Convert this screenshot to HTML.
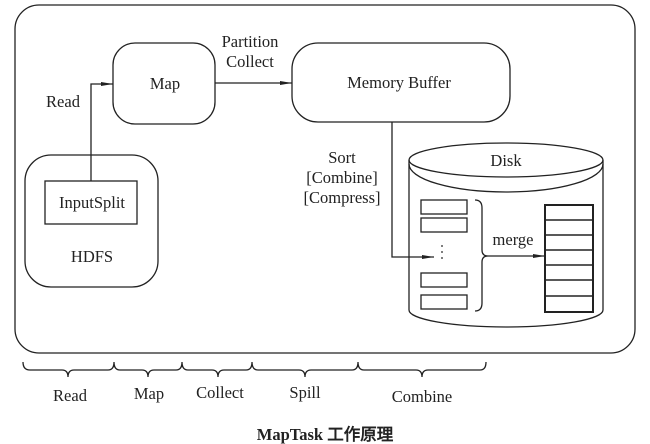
<!DOCTYPE html>
<html><head><meta charset="utf-8"><style>
html,body{margin:0;padding:0;background:#fff;}
svg{display:block;}
text{font-family:"Liberation Serif",serif;fill:#222;}
</style></head><body>
<svg width="650" height="444" viewBox="0 0 650 444" xmlns="http://www.w3.org/2000/svg">
<defs><marker id="a" markerWidth="12" markerHeight="6" refX="12" refY="3" orient="auto" markerUnits="userSpaceOnUse"><path d="M0,1 L12,3 L0,5 z" fill="#222"/></marker></defs>
<g fill="none" stroke="#222" stroke-width="1.3">
<rect x="15" y="5" width="620" height="348" rx="24"/>
<rect x="113" y="43" width="102" height="81" rx="22"/>
<rect x="292" y="43" width="218" height="79" rx="26"/>
<rect x="25" y="155" width="133" height="132" rx="26"/>
<rect x="45" y="181" width="92" height="43"/>
<path d="M91,181 V84 H113" marker-end="url(#a)"/>
<path d="M215,83 H292" marker-end="url(#a)"/>
<path d="M392,122 V257 H434" marker-end="url(#a)"/>
<path d="M409,160 V310 A97,17 0 0 0 603,310 V160"/>
<ellipse cx="506" cy="160" rx="97" ry="17"/>
<path d="M409,164 A97,28 0 0 0 603,164"/>
<rect x="421" y="200" width="46" height="14"/>
<rect x="421" y="218" width="46" height="14"/>
<rect x="421" y="273" width="46" height="14"/>
<rect x="421" y="295" width="46" height="14"/>
<path d="M475,200 Q482,200 482,208 V250 Q482,256 488,256 Q482,256 482,262 V303 Q482,311 475,311"/>
<path d="M488,256 H545" marker-end="url(#a)"/>
<rect x="545" y="205" width="48" height="107" stroke-width="2"/>
<path d="M545,220 H593 M545,235 H593 M545,250 H593 M545,265 H593 M545,280 H593 M545,296 H593" stroke-width="1.5"/>
<path d="M23,362 Q23,370 30,370 H62 Q68,370 68,377 Q68,370 74,370 H108 Q114,370 114,362 Q114,370 120,370 H142 Q148,370 148,377 Q148,370 154,370 H176 Q182,370 182,362 Q182,370 188,370 H212 Q218,370 218,377 Q218,370 224,370 H246 Q252,370 252,362 Q252,370 258,370 H299 Q305,370 305,377 Q305,370 311,370 H352 Q358,370 358,362 Q358,370 364,370 H416 Q422,370 422,377 Q422,370 428,370 H480 Q486,370 486,362"/>
</g>
<g fill="#222">
<circle cx="442" cy="246" r="0.9"/><circle cx="442" cy="252" r="0.9"/><circle cx="442" cy="258" r="0.9"/>
</g>
<g font-size="16.5" text-anchor="middle">
<text x="165" y="89">Map</text>
<text x="399" y="88">Memory Buffer</text>
<text x="250" y="47">Partition</text>
<text x="250" y="67">Collect</text>
<text x="63" y="107">Read</text>
<text x="92" y="208">InputSplit</text>
<text x="92" y="262">HDFS</text>
<text x="342" y="163">Sort</text>
<text x="342" y="183">[Combine]</text>
<text x="342" y="203">[Compress]</text>
<text x="506" y="166">Disk</text>
<text x="513" y="245">merge</text>
<text x="70" y="401">Read</text>
<text x="149" y="399">Map</text>
<text x="220" y="398">Collect</text>
<text x="305" y="398">Spill</text>
<text x="422" y="402">Combine</text>
<text x="325" y="440" font-weight="bold" font-family="'Liberation Serif','Noto Serif CJK SC',serif">MapTask 工作原理</text>
</g>
</svg>
</body></html>
